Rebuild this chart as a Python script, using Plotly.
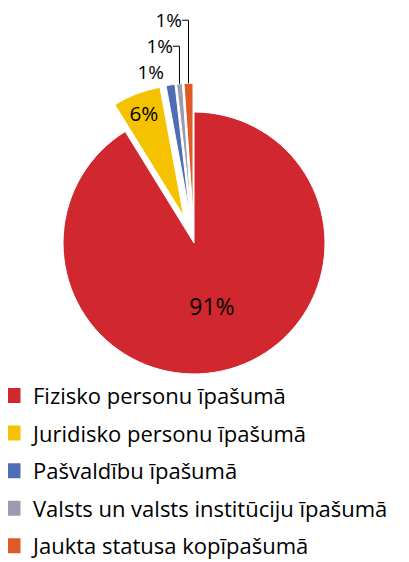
import plotly.graph_objects as go

categories = [
    "Fizisko personu īpašumā",
    "Juridisko personu īpašumā",
    "Pašvaldību īpašumā",
    "Valsts un valsts institūciju īpašumā",
    "Jaukta statusa kopīpašumā",
]
shares = [91.2, 5.9, 1.1, 0.7, 1.1]
colors = ["#D0282E", "#F4C200", "#4E6DB4", "#9C9CB0", "#E05A28"]
pulls = [0, 0.22, 0.22, 0.22, 0.22]
textpos = ["inside", "inside", "outside", "outside", "outside"]
textsizes = [23, 23, 19, 19, 19]

FONT = "Open Sans"

fig = go.Figure()
fig.add_trace(go.Pie(
    labels=categories,
    values=shares,
    sort=False,
    direction="clockwise",
    rotation=0,
    pull=pulls,
    automargin=False,
    marker=dict(colors=colors, line=dict(color="white", width=1)),
    texttemplate="%{percent:.0%}",
    textposition=textpos,
    insidetextorientation="horizontal",
    textfont=dict(family=FONT, size=textsizes, color="black"),
    domain=dict(x=[0.0641, 0.8455], y=[0.2975, 0.8662]),
    showlegend=False,
    hoverinfo="label+percent",
))

for i, (name, col) in enumerate(zip(categories, colors)):
    fig.add_trace(go.Scatter(
        x=[None], y=[None], mode="markers", name=name,
        marker=dict(symbol="square", size=15, color=col),
        legendgroup=f"g{i}", showlegend=True,
    ))

fig.update_layout(
    width=409, height=562,
    margin=dict(l=0, r=0, t=0, b=0, autoexpand=False),
    paper_bgcolor="white", plot_bgcolor="white",
    xaxis=dict(visible=False), yaxis=dict(visible=False),
    legend=dict(
        x=0, xanchor="left", y=0.006, yanchor="bottom",
        font=dict(family=FONT, size=22, color="black"),
        tracegroupgap=6, traceorder="grouped",
        indentation=-15,
        bgcolor="rgba(0,0,0,0)",
    ),
    font=dict(family=FONT),
)

fig.write_html("out.html")
